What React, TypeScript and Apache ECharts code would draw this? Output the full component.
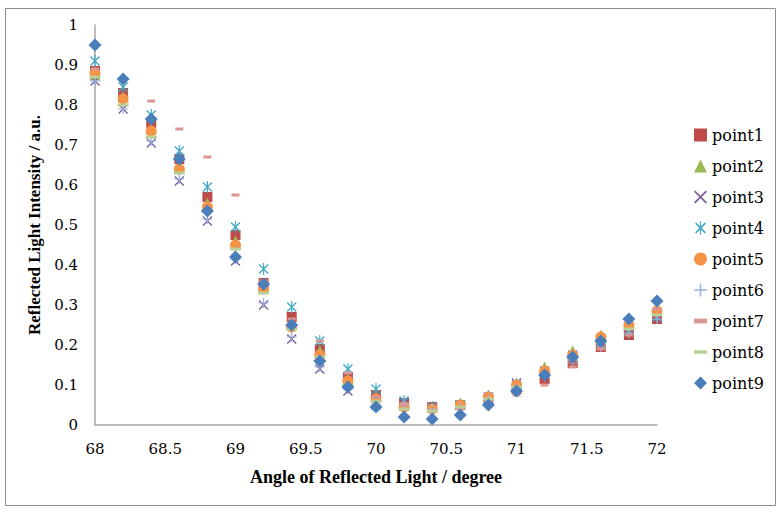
import React, { useEffect, useRef } from "react";
import * as echarts from "echarts";

const angles = [68, 68.2, 68.4, 68.6, 68.8, 69, 69.2, 69.4, 69.6, 69.8, 70, 70.2, 70.4, 70.6, 70.8, 71, 71.2, 71.4, 71.6, 71.8, 72];

const point1 = [0.885, 0.83, 0.755, 0.665, 0.57, 0.475, 0.355, 0.27, 0.19, 0.12, 0.075, 0.055, 0.045, 0.05, 0.065, 0.09, 0.115, 0.155, 0.195, 0.225, 0.265];
const point2 = [0.875, 0.82, 0.74, 0.645, 0.555, 0.46, 0.345, 0.255, 0.185, 0.115, 0.07, 0.05, 0.045, 0.055, 0.075, 0.105, 0.145, 0.185, 0.225, 0.255, 0.29];
const point3 = [0.86, 0.79, 0.705, 0.61, 0.51, 0.41, 0.30, 0.215, 0.14, 0.085, 0.05, 0.055, 0.045, 0.05, 0.07, 0.105, 0.135, 0.175, 0.215, 0.24, 0.27];
const point4 = [0.91, 0.845, 0.775, 0.685, 0.595, 0.495, 0.39, 0.295, 0.21, 0.14, 0.09, 0.06, 0.045, 0.05, 0.07, 0.10, 0.13, 0.17, 0.205, 0.235, 0.27];
const point5 = [0.88, 0.815, 0.735, 0.64, 0.545, 0.45, 0.34, 0.245, 0.175, 0.11, 0.065, 0.045, 0.04, 0.05, 0.07, 0.10, 0.135, 0.175, 0.22, 0.25, 0.285];
const point6 = [0.86, 0.79, 0.71, 0.615, 0.515, 0.415, 0.305, 0.22, 0.145, 0.09, 0.05, 0.055, 0.04, 0.045, 0.065, 0.09, 0.12, 0.155, 0.195, 0.23, 0.265];
const point7 = [0.89, 0.86, 0.81, 0.74, 0.67, 0.575, 0.36, 0.265, 0.21, 0.13, 0.07, 0.05, 0.035, 0.04, 0.06, 0.075, 0.10, 0.145, 0.19, 0.225, 0.29];
const point8 = [0.87, 0.80, 0.72, 0.63, 0.535, 0.44, 0.33, 0.24, 0.17, 0.10, 0.06, 0.04, 0.035, 0.045, 0.065, 0.095, 0.125, 0.165, 0.205, 0.24, 0.275];
const point9 = [0.95, 0.865, 0.765, 0.665, 0.535, 0.42, 0.352, 0.25, 0.16, 0.095, 0.045, 0.02, 0.015, 0.025, 0.05, 0.085, 0.125, 0.17, 0.21, 0.265, 0.31];

const seriesNames = ["point1", "point2", "point3", "point4", "point5", "point6", "point7", "point8", "point9"];
const seriesValues = [point1, point2, point3, point4, point5, point6, point7, point8, point9];
const seriesColors = ["#BE4B48", "#98B954", "#7D60A0", "#46AAC5", "#F59447", "#9AB1DB", "#DA9795", "#BACF98", "#4A7EBB"];

const xTicks = { min: 68, max: 72, interval: 0.5 };
const yTicks = { min: 0, max: 1, interval: 0.1 };

const X_PATH = "path://M0,1L1,0L10,9L9,10Z M9,0L10,1L1,10L0,9Z";
const AST_PATH = "path://M0,1L1,0L10,9L9,10Z M9,0L10,1L1,10L0,9Z M4.4,-1h1.2v12h-1.2z";
const PLUS_PATH = "path://M4.4,0h1.2v10h-1.2z M0,4.4h10v1.2h-10z";
const DASH_SHORT = "path://M0,0h8v3h-8z";
const DASH_LONG = "path://M0,0h11v3h-11z";

const symbols: any[] = [
  { symbol: "rect", size: 10 },
  { symbol: "triangle", size: 11 },
  { symbol: X_PATH, size: 10 },
  { symbol: AST_PATH, size: [10, 12] },
  { symbol: "circle", size: 11 },
  { symbol: PLUS_PATH, size: 10 },
  { symbol: DASH_SHORT, size: [8, 3] },
  { symbol: DASH_LONG, size: [11, 3] },
  { symbol: "diamond", size: 13 },
];

const TITLE_FONT = "Liberation Serif";
const LABEL_FONT = "DejaVu Serif";

export default function App() {
  const ref = useRef<HTMLDivElement>(null);
  useEffect(() => {
    document.body.style.margin = "0";
    const chart = echarts.init(ref.current!, null, { renderer: "svg" });
    const series = seriesNames.map((name, k) => ({
      name,
      type: "scatter",
      data: angles.map((x, i) => [x, seriesValues[k][i]]),
      symbol: symbols[k].symbol,
      symbolSize: symbols[k].size,
      itemStyle: { color: seriesColors[k], opacity: 1 },
      emphasis: { disabled: true },
    }));
    chart.setOption({
      animation: false,
      backgroundColor: "#ffffff",
      graphic: [
        {
          type: "rect",
          shape: { x: 5.5, y: 8.5, width: 770, height: 497 },
          style: { fill: "none", stroke: "#8C8C8C", lineWidth: 1 },
          silent: true,
        },
      ],
      grid: { left: 95, right: 124, top: 25, bottom: 87 },
      legend: {
        orient: "vertical",
        left: 689,
        top: 121,
        itemWidth: 13,
        itemHeight: 13,
        itemGap: 13,
        textStyle: { fontFamily: LABEL_FONT, fontSize: 16, color: "#000", lineHeight: 18 },
        data: seriesNames.map((n) => ({ name: n })),
      },
      xAxis: {
        type: "value",
        min: xTicks.min,
        max: xTicks.max,
        interval: xTicks.interval,
        name: "Angle of Reflected Light / degree",
        nameLocation: "middle",
        nameGap: 43,
        nameTextStyle: { fontFamily: TITLE_FONT, fontSize: 18, fontWeight: "bold", color: "#000" },
        axisLine: { show: true, onZero: false, lineStyle: { color: "#A6A6A6", width: 1.5 } },
        axisTick: { show: false },
        splitLine: { show: false },
        axisLabel: { fontFamily: LABEL_FONT, fontSize: 15, color: "#000", margin: 16 },
      },
      yAxis: {
        type: "value",
        min: yTicks.min,
        max: yTicks.max,
        interval: yTicks.interval,
        name: "Reflected Light Intensity / a.u.",
        nameLocation: "middle",
        nameGap: 47,
        nameTextStyle: { fontFamily: TITLE_FONT, fontSize: 17, fontWeight: "bold", color: "#000" },
        axisLine: { show: true, lineStyle: { color: "#A6A6A6", width: 1.5 } },
        axisTick: { show: false },
        splitLine: { show: false },
        axisLabel: { fontFamily: LABEL_FONT, fontSize: 15, color: "#000", margin: 17 },
      },
      series,
    });
    return () => chart.dispose();
  }, []);
  return <div ref={ref} style={{ width: 781, height: 512 }} />;
}
